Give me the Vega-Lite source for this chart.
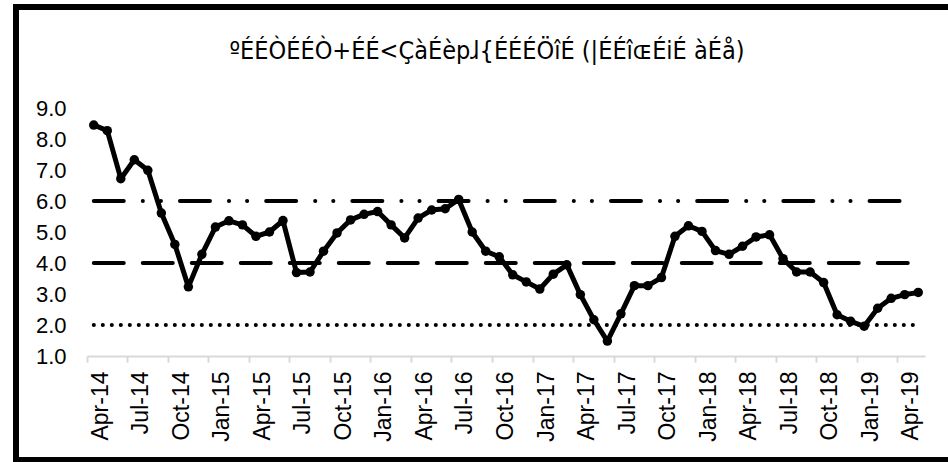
{
  "$schema": "https://vega.github.io/schema/vega-lite/v6.json",
  "width": 942,
  "height": 453,
  "autosize": {"type": "none"},
  "padding": {"left": 16, "top": 7, "right": -10, "bottom": 2},
  "background": "white",
  "config": {
    "view": {"stroke": "black", "strokeWidth": 6},
    "font": "Liberation Sans"
  },
  "title": {
    "text": "ºÉÉÒÉÉÒ+ÉÉ<ÇàÉèpɺ{ÉÉÉÖîÉ (|ÉÉîɶÉiÉ àÉå)",
    "font": "DejaVu Sans Condensed",
    "fontSize": 25,
    "fontWeight": "normal",
    "color": "black",
    "baseline": "alphabetic",
    "offset": -77,
    "dx": 0
  },
  "datasets": {
    "cpi": [
      {"month": "Apr-14", "value": 8.45},
      {"month": "May-14", "value": 8.27},
      {"month": "Jun-14", "value": 6.72},
      {"month": "Jul-14", "value": 7.33},
      {"month": "Aug-14", "value": 6.99},
      {"month": "Sep-14", "value": 5.61},
      {"month": "Oct-14", "value": 4.6},
      {"month": "Nov-14", "value": 3.23},
      {"month": "Dec-14", "value": 4.28},
      {"month": "Jan-15", "value": 5.16},
      {"month": "Feb-15", "value": 5.36},
      {"month": "Mar-15", "value": 5.23},
      {"month": "Apr-15", "value": 4.86},
      {"month": "May-15", "value": 5.0},
      {"month": "Jun-15", "value": 5.37},
      {"month": "Jul-15", "value": 3.69},
      {"month": "Aug-15", "value": 3.71},
      {"month": "Sep-15", "value": 4.38},
      {"month": "Oct-15", "value": 4.97},
      {"month": "Nov-15", "value": 5.39},
      {"month": "Dec-15", "value": 5.57},
      {"month": "Jan-16", "value": 5.66},
      {"month": "Feb-16", "value": 5.23},
      {"month": "Mar-16", "value": 4.81},
      {"month": "Apr-16", "value": 5.45},
      {"month": "May-16", "value": 5.71},
      {"month": "Jun-16", "value": 5.75},
      {"month": "Jul-16", "value": 6.05},
      {"month": "Aug-16", "value": 5.0},
      {"month": "Sep-16", "value": 4.38},
      {"month": "Oct-16", "value": 4.2},
      {"month": "Nov-16", "value": 3.62},
      {"month": "Dec-16", "value": 3.39},
      {"month": "Jan-17", "value": 3.16},
      {"month": "Feb-17", "value": 3.64},
      {"month": "Mar-17", "value": 3.94},
      {"month": "Apr-17", "value": 2.98},
      {"month": "May-17", "value": 2.17},
      {"month": "Jun-17", "value": 1.48},
      {"month": "Jul-17", "value": 2.36},
      {"month": "Aug-17", "value": 3.27},
      {"month": "Sep-17", "value": 3.27},
      {"month": "Oct-17", "value": 3.53},
      {"month": "Nov-17", "value": 4.86},
      {"month": "Dec-17", "value": 5.2},
      {"month": "Jan-18", "value": 5.02},
      {"month": "Feb-18", "value": 4.4},
      {"month": "Mar-18", "value": 4.28},
      {"month": "Apr-18", "value": 4.54},
      {"month": "May-18", "value": 4.84},
      {"month": "Jun-18", "value": 4.91},
      {"month": "Jul-18", "value": 4.14},
      {"month": "Aug-18", "value": 3.71},
      {"month": "Sep-18", "value": 3.71},
      {"month": "Oct-18", "value": 3.37},
      {"month": "Nov-18", "value": 2.33},
      {"month": "Dec-18", "value": 2.12},
      {"month": "Jan-19", "value": 1.96},
      {"month": "Feb-19", "value": 2.54},
      {"month": "Mar-19", "value": 2.86},
      {"month": "Apr-19", "value": 2.98},
      {"month": "May-19", "value": 3.05}
    ],
    "refs": [
      {"kind": "dotted", "level": 2, "from": "Apr-14", "to": "May-19"},
      {"kind": "dashed", "level": 4, "from": "Apr-14", "to": "May-19"},
      {"kind": "dashdotdot", "level": 6, "from": "Apr-14", "to": "May-19"}
    ]
  },
  "encoding": {
    "x": {
      "field": "month",
      "type": "ordinal",
      "sort": null,
      "scale": {
        "type": "band",
        "domain": ["Apr-14","May-14","Jun-14","Jul-14","Aug-14","Sep-14","Oct-14","Nov-14","Dec-14","Jan-15","Feb-15","Mar-15","Apr-15","May-15","Jun-15","Jul-15","Aug-15","Sep-15","Oct-15","Nov-15","Dec-15","Jan-16","Feb-16","Mar-16","Apr-16","May-16","Jun-16","Jul-16","Aug-16","Sep-16","Oct-16","Nov-16","Dec-16","Jan-17","Feb-17","Mar-17","Apr-17","May-17","Jun-17","Jul-17","Aug-17","Sep-17","Oct-17","Nov-17","Dec-17","Jan-18","Feb-18","Mar-18","Apr-18","May-18","Jun-18","Jul-18","Aug-18","Sep-18","Oct-18","Nov-18","Dec-18","Jan-19","Feb-19","Mar-19","Apr-19","May-19"],
        "range": [71, 909],
        "paddingInner": 0,
        "paddingOuter": 0
      },
      "axis": {
        "title": null,
        "values": ["Apr-14","Jul-14","Oct-14","Jan-15","Apr-15","Jul-15","Oct-15","Jan-16","Apr-16","Jul-16","Oct-16","Jan-17","Apr-17","Jul-17","Oct-17","Jan-18","Apr-18","Jul-18","Oct-18","Jan-19","Apr-19"],
        "bandPosition": 0,
        "labelOffset": 6.76,
        "labelAngle": -90,
        "labelFontSize": 23,
        "labelColor": "black",
        "labelPadding": 9,
        "tickSize": 6,
        "tickColor": "#d9d9d9",
        "tickWidth": 2,
        "domainColor": "#d9d9d9",
        "domainWidth": 2,
        "offset": -104,
        "labelOverlap": false
      }
    },
    "y": {
      "type": "quantitative",
      "scale": {"domain": [1, 9], "range": [349, 101], "nice": false, "zero": false},
      "axis": {
        "title": null,
        "values": [1, 2, 3, 4, 5, 6, 7, 8, 9],
        "format": ".1f",
        "domain": false,
        "ticks": false,
        "grid": false,
        "labelFontSize": 22,
        "labelColor": "black",
        "labelPadding": 21,
        "offset": -71
      }
    }
  },
  "layer": [
    {
      "data": {"name": "refs"},
      "mark": {"type": "rule", "strokeWidth": 4, "strokeCap": "round", "color": "black"},
      "encoding": {
        "x": {"field": "from", "type": "ordinal"},
        "x2": {"field": "to"},
        "y": {"field": "level", "type": "quantitative"},
        "strokeDash": {
          "field": "kind",
          "type": "nominal",
          "scale": {
            "domain": ["dotted", "dashed", "dashdotdot"],
            "range": [[0.1, 8.9], [30, 19], [30, 19, 0.1, 18, 0.1, 19]]
          },
          "legend": null
        }
      }
    },
    {
      "data": {"name": "cpi"},
      "mark": {"type": "line", "color": "black", "strokeWidth": 5, "strokeJoin": "round"},
      "encoding": {"y": {"field": "value", "type": "quantitative"}}
    },
    {
      "data": {"name": "cpi"},
      "mark": {"type": "point", "filled": true, "color": "black", "opacity": 1, "size": 90},
      "encoding": {"y": {"field": "value", "type": "quantitative"}}
    }
  ]
}
